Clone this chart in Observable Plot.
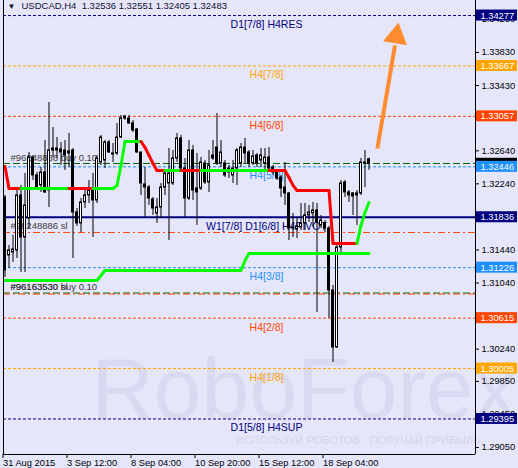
<!DOCTYPE html>
<html><head><meta charset="utf-8">
<script src="https://cdn.jsdelivr.net/npm/d3@7"></script>
<script src="https://cdn.jsdelivr.net/npm/@observablehq/plot@0.6"></script>
<style>
html,body{margin:0;padding:0;background:#E6E6FA;}
#chart svg{display:block;}
</style></head><body><div id="chart"></div>
<script>
// ---- data (USDCAD H4 candles) ----
const symbolName = "USDCAD,H4";
const open = [1.32075,1.31374,1.31410,1.31434,1.32100,1.31591,1.31821,1.32559,1.32342,1.32221,
1.32378,1.32160,1.32668,1.32668,1.32656,1.32644,1.32632,1.32644,1.31894,1.31761,
1.32015,1.32100,1.32160,1.32039,1.32499,1.32523,1.32741,1.32608,1.32608,1.32801,
1.33055,1.33031,1.32971,1.32898,1.32620,1.32233,1.32196,1.32051,1.31882,1.31954,
1.32196,1.32245,1.32245,1.32547,1.32789,1.32426,1.32063,1.32644,1.32184,1.32184,
1.32487,1.32257,1.32584,1.32680,1.32487,1.32487,1.32426,1.32342,1.32426,1.32487,
1.32680,1.32620,1.32487,1.32584,1.32523,1.32487,1.32559,1.32438,1.32378,1.32317,
1.32196,1.32124,1.31713,1.31688,1.31713,1.31761,1.31858,1.31882,1.31918,1.31737,
1.31761,1.31700,1.30950,1.30260,1.31470,1.32257,1.32136,1.32124,1.32100,1.32124,
1.32499,1.32536];
const high = [1.32100,1.31495,1.31616,1.32160,1.32221,1.32366,1.32620,1.32584,1.32378,1.32438,
1.32765,1.33225,1.32922,1.32801,1.32741,1.32765,1.32850,1.32668,1.31942,1.32063,
1.32184,1.32281,1.32366,1.32584,1.32826,1.32765,1.32765,1.32729,1.32971,1.33068,
1.33068,1.33068,1.33007,1.32910,1.32620,1.32438,1.32221,1.32075,1.32063,1.32245,
1.32402,1.32668,1.32644,1.32850,1.32826,1.32547,1.32765,1.32705,1.32608,1.32559,
1.32523,1.32644,1.32765,1.33092,1.32765,1.32523,1.32463,1.32523,1.32668,1.32729,
1.32789,1.32644,1.32644,1.32608,1.32668,1.32668,1.32680,1.32463,1.32402,1.32342,
1.32499,1.32136,1.31882,1.31821,1.32003,1.32003,1.31979,1.32015,1.32003,1.31858,
1.31797,1.31725,1.31011,1.31519,1.32281,1.32281,1.32160,1.32136,1.32160,1.32547,
1.32644,1.32551];
const low = [1.31107,1.31216,1.31289,1.31337,1.31168,1.31168,1.31700,1.32281,1.32160,1.32136,
1.32124,1.31954,1.32559,1.32547,1.32463,1.32402,1.32438,1.31337,1.31725,1.31652,
1.31942,1.32003,1.31591,1.32003,1.32463,1.32426,1.32608,1.32499,1.32584,1.32789,
1.33007,1.32959,1.32862,1.32608,1.32100,1.31833,1.31979,1.31858,1.31761,1.31821,
1.32100,1.31555,1.32221,1.32499,1.32378,1.31833,1.32039,1.32039,1.31737,1.32160,
1.32233,1.32136,1.32523,1.32463,1.32438,1.32317,1.32305,1.32245,1.32221,1.32438,
1.32487,1.32438,1.32463,1.32438,1.32438,1.32378,1.32402,1.32342,1.32281,1.32075,
1.31979,1.31555,1.31591,1.31579,1.31676,1.31676,1.31773,1.31713,1.30684,1.31700,
1.31652,1.30611,1.30079,1.30248,1.31410,1.32075,1.32015,1.31858,1.31737,1.32100,
1.32196,1.32405];
const close = [1.31192,1.31434,1.31446,1.32100,1.31591,1.31979,1.32559,1.32342,1.32196,1.32378,
1.32136,1.32644,1.32644,1.32644,1.32620,1.32584,1.32608,1.31894,1.31761,1.32015,
1.32100,1.32160,1.32039,1.32547,1.32801,1.32741,1.32620,1.32596,1.32801,1.33031,
1.33031,1.32971,1.32886,1.32620,1.32245,1.32196,1.32063,1.31942,1.31954,1.32196,
1.32366,1.32366,1.32547,1.32789,1.32426,1.32063,1.32644,1.32160,1.32136,1.32499,
1.32257,1.32463,1.32547,1.32487,1.32620,1.32342,1.32378,1.32426,1.32644,1.32680,
1.32608,1.32487,1.32572,1.32487,1.32584,1.32559,1.32426,1.32378,1.32305,1.32184,
1.32124,1.31700,1.31700,1.31725,1.31761,1.31858,1.31894,1.31918,1.31773,1.31797,
1.31700,1.30950,1.30260,1.31470,1.32245,1.32136,1.32100,1.32088,1.32124,1.32499,
1.32487,1.32483];

// trailing step indicator (value per bar, trend 1 = up/green, -1 = down/red)
const trendValue = [1.32450,1.32184,1.32184,1.32184,1.32184,
1.32184,1.32184,1.32184,1.32184,1.32184,1.32184,1.32184,1.32184,1.32184,1.32184,
1.32184,1.32184,1.32184,1.32184,1.32184,1.32184,1.32184,1.32184,1.32184,1.32184,
1.32184,1.32184,1.32184,1.32221,1.32463,1.32753,1.32753,1.32753,1.32753,1.32753,
1.32680,1.32584,1.32487,1.32402,1.32402,1.32402,1.32402,1.32402,1.32402,1.32402,
1.32402,1.32402,1.32402,1.32402,1.32402,1.32402,1.32402,1.32402,1.32402,1.32402,
1.32402,1.32402,1.32402,1.32402,1.32402,1.32402,1.32402,1.32402,1.32402,1.32402,
1.32402,1.32402,1.32402,1.32402,1.32402,1.32402,1.32317,1.32221,1.32160,1.32160,
1.32160,1.32160,1.32160,1.32160,1.32160,1.32160,1.32160,1.31519,1.31519,1.31519,
1.31519,1.31519,1.31519,1.31519,1.31737,1.31894,1.32015];
const trendDir = [-1,-1,-1,-1,-1, 1,1,1,1,1, 1,1,1,1,1, 1,1,-1,-1,-1,
-1,-1,-1,1,1, 1,1,1,1,1, 1,1,1,1,1, -1,-1,-1,-1,-1,
-1,1,1,1,1, -1,-1,-1,-1,-1, 1,1,1,1,1, 1,1,1,1,1,
1,1,1,1,1, 1,1,-1,-1,-1, -1,-1,-1,-1,-1, -1,-1,-1,-1,-1,
-1,-1,-1,-1,-1, -1,-1,-1,-1,1, 1,1];
// lower support step line
const supportValue = [1.31071,1.31071,1.31071,1.31071,1.31071,1.31071,1.31071,1.31071,1.31071,1.31071,
1.31071,1.31071,1.31071,1.31071,1.31071,1.31071,1.31071,1.31071,1.31071,1.31071,
1.31071,1.31071,1.31071,1.31071,1.31131,1.31192,1.31192,1.31192,1.31192,1.31192,
1.31192,1.31192,1.31192,1.31192,1.31192,1.31192,1.31192,1.31192,1.31192,1.31192,
1.31192,1.31192,1.31192,1.31192,1.31192,1.31192,1.31192,1.31192,1.31192,1.31192,
1.31192,1.31192,1.31192,1.31192,1.31192,1.31192,1.31192,1.31192,1.31192,1.31192,
1.31313,1.31398,1.31398,1.31398,1.31398,1.31398,1.31398,1.31398,1.31398,1.31398,
1.31398,1.31398,1.31398,1.31398,1.31398,1.31398,1.31398,1.31398,1.31398,1.31398,
1.31398,1.31398,1.31398,1.31398,1.31398,1.31398,1.31398,1.31398,1.31398,1.31398,
1.31398,1.31398];

// Murrey levels
const levelNames = ["D1[7/8] H4RES","H4[7/8]","H4[6/8]","H4[5/8]","W1[7/8] D1[6/8] H4PIVOT","H4[3/8]","H4[2/8]","H4[1/8]","D1[5/8] H4SUP"];
const levelPrices = [1.34277,1.33667,1.33057,1.32446,1.31836,1.31226,1.30615,1.30005,1.29395];

// orders
const orderLabels = ["#96248886 buy 0.10","#96248886 sl","#96163530 buy 0.10","#96163530 sl"];
const orderPrices = [1.32487,1.31664,1.30919,1.30919];

// axis ticks
const priceTicks = [1.34230,1.33830,1.33430,1.33040,1.32640,1.32240,1.31840,1.31440,1.31040,1.30640,1.30240,1.29850,1.29450,1.29050];
const timeTickBars = [0,16,32,48,64,80];
const timeLabels = ["31 Aug 2015","3 Sep 12:00","8 Sep 04:00","10 Sep 20:00","15 Sep 12:00","18 Sep 04:00"];

// forecast arrow (bar index, price)
const arrowBars = [93.1, 97.5];
const arrowPrices = [1.32668, 1.33915];
const arrowHead = {bar: 97.8, price: 1.34026};

const watermark = "RoboForex";
const slogan = "ИСПОЛЬЗУЙ РОБОТОВ - ПОЛУЧАЙ ПРИБЫЛЬ";

// ---- styles ----
const levelColorByKey = {"7/8":"#FFA500","1/8":"#FFA500","6/8":"#FF4500","2/8":"#FF4500","5/8":"#1E90FF","3/8":"#1E90FF"};
function levelColor(name){
  if (name.startsWith("D1") || name.startsWith("W1")) return "#000080";
  const k = name.match(/\[(\d\/8)\]/)[1];
  return levelColorByKey[k];
}
const xDomain = [-0.375, 117.625];
const yDomain = [1.28965, 1.34459];

const n = open.length;
const bars = open.map((o,i)=>({i, o, h:high[i], l:low[i], c:close[i]}));
const segs = d3.range(1,n).map(i=>({x1:i-1, x2:i, y1:trendValue[i-1], y2:trendValue[i], t:trendDir[i]}));
const sup = supportValue.map((v,i)=>({i, v}));
const levels = levelNames.map((name,k)=>({name, p:levelPrices[k], color:levelColor(name), pivot:name.includes("PIVOT")}));
const orders = orderLabels.map((label,k)=>({label, p:orderPrices[k], sl: / sl$/.test(label)}));
const lastBox = [{p: close[n-1], color:"#000000"}];
const arrowData = [{x1:arrowBars[0], y1:arrowPrices[0], x2:arrowBars[1], y2:arrowPrices[1]}];
const title = `${symbolName}\u00a0\u00a0${open[n-1].toFixed(5)} ${high[n-1].toFixed(5)} ${low[n-1].toFixed(5)} ${close[n-1].toFixed(5)}`;

const font = "Liberation Sans, Arial, sans-serif";
const chart = Plot.plot({
  width: 518, height: 468,
  marginLeft: 3, marginRight: 43, marginTop: 0, marginBottom: 14,
  style: {background: "#E6E6FA", fontFamily: font, fontSize: "9.3px", color: "black", overflow: "visible"},
  x: {domain: xDomain, axis: null},
  y: {domain: yDomain, axis: null},
  color: {type: "identity"},
  marks: [
    // watermark
    Plot.text([watermark], {frameAnchor: "bottom-left", text: d=>d, dx: 88, dy: -37, textAnchor: "start", lineAnchor: "bottom", fontSize: 86, fill: "#D9D9F1"}),
    Plot.text([slogan], {frameAnchor: "bottom-left", text: d=>d, dx: 232, dy: -11, textAnchor: "start", lineAnchor: "bottom", fontSize: 11, fill: "#D4D4EE"}),
    // levels
    Plot.ruleY(levels.filter(d=>!d.pivot), {y: "p", stroke: "color", strokeDasharray: "3,2"}),
    Plot.ruleY(levels.filter(d=>d.pivot), {y: "p", stroke: "color", strokeWidth: 2}),
    Plot.text(levels, {y: "p", text: "name", fill: "color", dx: 27, dy: 9, fontSize: 10.5}),
    // orders
    Plot.ruleY(orders.filter(d=>!d.sl), {y: "p", stroke: "#006400", strokeDasharray: "7,3"}),
    Plot.ruleY(orders.filter(d=>d.sl), {y: "p", stroke: "#FF4500", strokeDasharray: "7,3,2,3", dy: 1}),
    Plot.text(orders, {y: "p", text: "label", frameAnchor: "left", dx: 7, dy: -6, textAnchor: "start", fill: "#3c3c3c", fontSize: 9.5}),
    // candles
    Plot.ruleX(bars, {x: "i", y1: "l", y2: "h", stroke: "black"}),
    Plot.rect(bars, {x1: d=>d.i-0.25, x2: d=>d.i+0.25, y1: "o", y2: "c", fill: d=>d.c>=d.o ? "white" : "black", stroke: "black"}),
    // indicators
    Plot.line(sup, {x: "i", y: "v", stroke: "#00FF00", strokeWidth: 3}),
    Plot.link(segs, {x1: "x1", y1: "y1", x2: "x2", y2: "y2", stroke: d=>d.t>0 ? "#00FF00" : "#FF0000", strokeWidth: 3, strokeLinecap: "round"}),
    // arrow
    Plot.link(arrowData, {x1: "x1", y1: "y1", x2: "x2", y2: "y2", stroke: "#FF8C2E", strokeWidth: 4}),
    Plot.dot([arrowHead], {x: "bar", y: "price", symbol: "triangle", r: 9, fill: "#FF8C2E", rotate: 9.5}),
    // frame
    Plot.ruleX([xDomain[0], xDomain[1]], {stroke: "black"}),
    Plot.ruleY([yDomain[0]], {stroke: "black"}),
    // axes
    Plot.axisY({anchor: "right", ticks: priceTicks, tickFormat: d=>d.toFixed(5), tickSize: 3, tickPadding: 3, fontSize: 9.3}),
    Plot.axisX({ticks: timeTickBars, tickFormat: d=>timeLabels[timeTickBars.indexOf(d)], tickSize: 4, tickPadding: 1, textAnchor: "start", dx: -2, fontSize: 9.3}),
    // price boxes
    Plot.rect(lastBox, {x1: ()=>xDomain[1], x2: ()=>xDomain[1], y1: "p", y2: "p", fill: "color", insetLeft: 1, insetRight: -42, insetTop: -5.5, insetBottom: -5.5}),
    Plot.text(lastBox, {y: "p", text: d=>d.p.toFixed(5), frameAnchor: "right", dx: 5, textAnchor: "start", fill: "white", fontSize: 9.3}),
    Plot.rect(levels, {x1: ()=>xDomain[1], x2: ()=>xDomain[1], y1: "p", y2: "p", fill: "color", insetLeft: 1, insetRight: -42, insetTop: -5.5, insetBottom: -5.5}),
    Plot.text(levels, {y: "p", text: d=>d.p.toFixed(5), frameAnchor: "right", dx: 5, textAnchor: "start", fill: "white", fontSize: 9.3}),
    // title
    Plot.text(["\u25BC"], {frameAnchor: "top-left", text: d=>d, dx: 4, dy: 3, textAnchor: "start", lineAnchor: "top", fontSize: 8, fill: "#101030"}),
    Plot.text([title], {frameAnchor: "top-left", text: d=>d, dx: 18, dy: 2, textAnchor: "start", lineAnchor: "top", fontSize: 9.5, fill: "#101030"})
  ]
});
document.getElementById("chart").append(chart);
</script>
</body></html>
